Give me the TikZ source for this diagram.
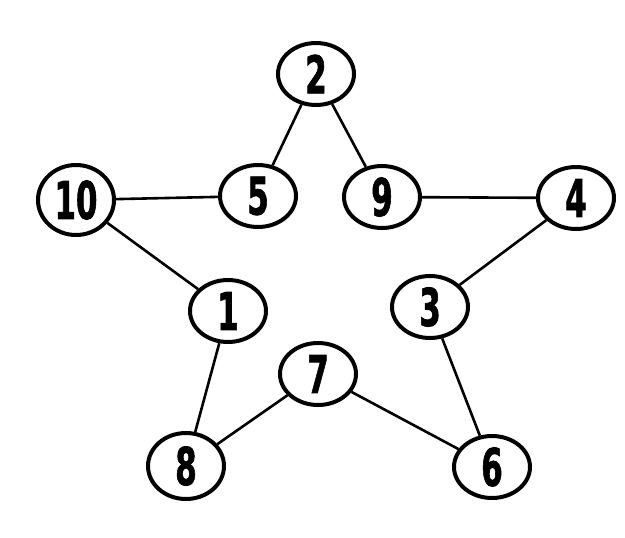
\documentclass[tikz,border=0pt]{standalone}
\usepackage{fontspec}
\newfontfamily\numfont{DejaVu Sans Condensed Bold}[FakeBold=1.6]
\usetikzlibrary{shapes.geometric}
\tikzset{
  num/.style={draw=black, line width=4pt, ellipse, inner sep=0pt,
    minimum width=76pt, minimum height=62pt, fill=white,
    font=\numfont\fontsize{52}{52}\selectfont},
  link/.style={line width=2.6pt, black}
}
\newcommand{\dg}[1]{\scalebox{0.66}[1.0]{#1}}
\begin{document}
\begin{tikzpicture}[x=1pt,y=-1pt]
\useasboundingbox (0,0) rectangle (625,538);
\node[num] (n2) at (316,74) {\dg{2}};
\node[num] (n5) at (258,196) {\dg{5}};
\node[num] (n9) at (382,197) {\dg{9}};
\node[num, minimum height=70pt] (n10) at (76,200) {\dg{10}};
\node[num] (n4) at (576,198) {\dg{4}};
\node[num] (n1) at (228,311) {\dg{1}};
\node[num] (n3) at (430,307) {\dg{3}};
\node[num] (n7) at (318,374) {\dg{7}};
\node[num, minimum height=66pt] (n8) at (186,466) {\dg{8}};
\node[num] (n6) at (492,467) {\dg{6}};
\draw[link] (n2) -- (n5);
\draw[link] (n2) -- (n9);
\draw[link] (n10) -- (n5);
\draw[link] (n9) -- (n4);
\draw[link] (n10) -- (n1);
\draw[link] (n4) -- (n3);
\draw[link] (n1) -- (n8);
\draw[link] (n3) -- (n6);
\draw[link] (n8) -- (n7);
\draw[link] (n7) -- (n6);
\end{tikzpicture}
\end{document}
